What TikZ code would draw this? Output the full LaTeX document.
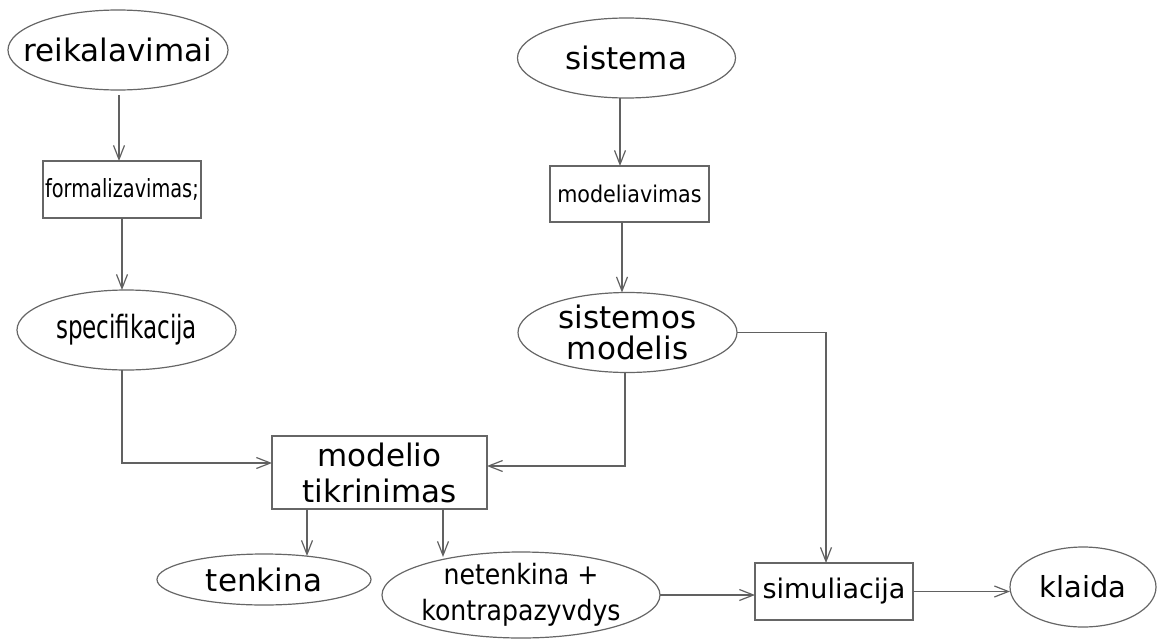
\documentclass[tikz,border=0pt]{standalone}
\usepackage{fontspec}
\setmainfont{DejaVu Sans}
\newfontfamily\condfont{DejaVu Sans Condensed}
\usetikzlibrary{arrows.meta,shapes.geometric}

\tikzset{
  x=1pt, y=-1pt,
  every node/.style={inner sep=0pt, outer sep=0pt, align=center, text=black},
  every label/.style={inner sep=0pt, align=center, text=black},
  oval/.style={ellipse, draw=black!60, line width=1.2pt},
  stepbox/.style={rectangle, draw=black!60, line width=1.2pt},
  big/.style={font=\fontsize{31}{36}\selectfont},
  arr/.style={draw=black!62, line width=1.2pt,
    -{Straight Barb[length=14pt,width=11pt,line width=1.2pt]}},
}

\begin{document}
\begin{tikzpicture}
\useasboundingbox (0,0) rectangle (1157,640);

% left column: requirements
\node[oval, minimum width=220pt, minimum height=80pt,
  label={[big]center:reikalavimai}] (req) at (118,50) {};
\node[stepbox, minimum width=158pt, minimum height=57pt,
  font=\condfont\fontsize{25}{30}\selectfont] (form) at (122,189.5)
  {\scalebox{0.86}[1]{formalizavimas;}};
\node[oval, minimum width=219pt, minimum height=80pt,
  label={[font=\condfont\fontsize{32}{36}\selectfont]center:\scalebox{0.8}[1]{specifikacija}}]
  (spec) at (126.5,330) {};

% right column: system
\node[oval, minimum width=218pt, minimum height=80pt,
  label={[big]center:sistema}] (sys) at (626.5,58) {};
\node[stepbox, minimum width=159pt, minimum height=56pt,
  font=\condfont\fontsize{23}{28}\selectfont] (modl) at (629.5,194) {modeliavimas};
\node[oval, minimum width=219pt, minimum height=80pt,
  label={[font=\fontsize{31}{31}\selectfont]center:sistemos\\modelis}] (sysm) at (627.5,332.5) {};

% checking and its results
\node[stepbox, minimum width=215pt, minimum height=73pt, big] (mc) at (379.5,472.5)
  {modelio\\tikrinimas};
\node[oval, minimum width=214pt, minimum height=51pt,
  label={[big]center:tenkina}] (ten) at (264,579.5) {};
\node[oval, minimum width=278pt, minimum height=86pt,
  label={[font=\condfont\fontsize{28}{36}\selectfont]center:netenkina +\\kontrapazyvdys}]
  (net) at (521,595) {};
\node[stepbox, minimum width=158pt, minimum height=57pt,
  font=\fontsize{27}{30}\selectfont] (sim) at (834,591.5) {simuliacija};
\node[oval, minimum width=146pt, minimum height=80pt,
  label={[font=\fontsize{29}{32}\selectfont]center:klaida}] (kla) at (1083,587) {};

% connectors
\draw[arr, shorten <=5pt] ([xshift=1pt]req.south) -- ([xshift=-3pt]form.north);
\draw[arr] (form.south) -- ([xshift=-4.5pt]spec.north);
\draw[arr] ([xshift=-6.5pt]sys.south) -- ([xshift=-9.5pt]modl.north);
\draw[arr] ([xshift=-7.5pt]modl.south) -- ([xshift=-5.5pt]sysm.north);
\draw[arr] ([xshift=-4.5pt]spec.south) |- ([yshift=9.5pt]mc.west);
\draw[arr] ([xshift=-2.5pt]sysm.south) |- ([yshift=6.5pt]mc.east);
\draw[arr] (sysm.east) -| ([xshift=-8pt]sim.north);
\coordinate (tx) at ([xshift=-72.5pt]mc.south);
\coordinate (nx) at ([xshift=63.5pt]mc.south);
\draw[arr] (tx) -- ([yshift=-2pt]tx |- ten.north);
\draw[arr] (nx) -- ([yshift=-5pt]nx |- net.north);
\draw[arr] (net.east) -- ([yshift=-3.5pt]sim.west);
\draw[arr] (sim.east) -- (sim.east -| kla.west);
\end{tikzpicture}
\end{document}
